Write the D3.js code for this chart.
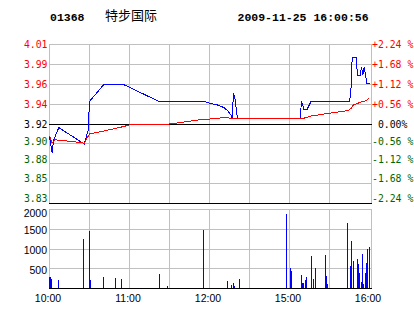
<!DOCTYPE html>
<html>
<head>
<meta charset="utf-8">
<script src="https://cdnjs.cloudflare.com/ajax/libs/d3/7.8.5/d3.min.js"></script>
<style>
body{margin:0;background:#fff}
svg{display:block}
.mono{font-family:"DejaVu Sans Mono",monospace;font-size:9.8px;white-space:pre}
.head{font-family:"Liberation Mono",monospace;font-size:11.5px;font-weight:bold}
.sans{font-family:"Liberation Sans",Arial,sans-serif;font-size:10.5px}
</style>
</head>
<body>
<div class="plot"></div>
<script>
var code = '01368', name = '特步国际', stamp = '2009-11-25 16:00:56';
var preClose = 3.92;

var pctTicks = [2.24, 1.68, 1.12, 0.56, 0, -0.56, -1.12, -1.68, -2.24];
var volTicks = [2000, 1500, 1000, 500];
var timeTicks = ['10:00', '11:00', '12:00', '15:00', '16:00'];

// last price (blue)
var priceTimes = ['10:00','10:02','10:03','10:07','10:26','10:29','10:30','10:41','10:55','11:22',
  '11:56','12:00','12:06','12:11','12:14','12:16','12:17','12:18','12:19','12:20','12:21',
  '15:08','15:09','15:11','15:13','15:16','15:44','15:45','15:46','15:47','15:50','15:51',
  '15:53','15:54','15:55','15:56','15:57','15:58','16:00'];
var priceValues = [3.906,3.888,3.902,3.916,3.898,3.913,3.945,3.964,3.964,3.945,
  3.945,3.943,3.941,3.938,3.934,3.930,3.9265,3.954,3.949,3.937,3.9265,
  3.9265,3.945,3.9355,3.9355,3.9445,3.9445,3.9445,3.955,3.993,3.993,3.974,
  3.974,3.983,3.974,3.983,3.974,3.965,3.965];

// average price (red)
var avgTimes = ['10:00','10:02','10:04','10:10','10:24','10:26','10:30','10:41','10:55','11:00',
  '11:15','11:30','11:53','12:00','12:11','12:20','15:10','15:16','15:29','15:44','15:46',
  '15:48','15:51','15:54','15:58','16:00'];
var avgValues = [3.907,3.899,3.9025,3.9017,3.8995,3.8986,3.909,3.9123,3.917,3.9189,
  3.9192,3.920,3.9247,3.9255,3.927,3.926,3.926,3.9288,3.9317,3.9348,3.937,
  3.941,3.9427,3.9445,3.946,3.949];

// volume
var volTimes = ['10:00','10:01','10:02','10:07','10:26','10:30','10:31','10:41','10:50','10:54',
  '11:23','11:29','11:56','12:14','12:17','12:18','12:19','12:23','14:58','15:01','15:02',
  '15:09','15:10','15:11','15:12','15:13','15:17','15:18','15:20','15:27','15:28','15:29',
  '15:44','15:46','15:47','15:48','15:51','15:52','15:53','15:54','15:55','15:56','15:57',
  '15:58','15:59','16:00'];
var volValues = [280,280,230,200,1250,1450,190,280,250,230,
  360,60,1470,185,84,134,58,235,1870,515,440,
  330,130,130,200,280,810,230,505,835,305,100,
  1645,555,1190,685,735,610,380,150,860,100,380,
  640,990,1040];

// trading minute index: 10:00-12:30 then 14:30-16:00
function idx(t){
  var p = t.split(':'), m = +p[0]*60 + +p[1];
  return m <= 750 ? m - 600 : m - 870 + 150;
}

var W = 414, H = 314,
    L = 49, R = 371,
    pTop = 44, pBot = 203,
    vTop = 209, vBot = 288;

var svg = d3.select('.plot').append('svg').attr('width', W).attr('height', H);

var x = d3.scaleLinear().domain([0, 241.5]).range([L, R]);
var yPct = d3.scaleLinear().domain([-2.24, 2.24]).range([pBot, pTop]);
var yPrice = function(v){ return yPct((v / preClose - 1) * 100); };
var yVol = d3.scaleLinear().domain([0, 2000]).range([vBot, vTop]);

var px = function(v){ return Math.round(v) + 0.5; };
var grid = svg.append('g').attr('shape-rendering', 'crispEdges').attr('fill', 'none');

// header
svg.append('text').attr('class', 'head').attr('x', 50).attr('y', 20.5).text(code);
svg.append('text').attr('x', 105).attr('y', 20)
  .style('font-family', '"Noto Sans CJK SC",sans-serif').style('font-size', '13px').text(name);
svg.append('text').attr('class', 'head').attr('x', 237.5).attr('y', 20.5).text(stamp);

// vertical grid every 30 minutes
var vLines = d3.range(30, 240, 30);
[[pTop, pBot], [vTop, vBot]].forEach(function(r){
  grid.selectAll(null).data(vLines).enter().append('line')
    .attr('x1', function(d){ return px(x(d)); }).attr('x2', function(d){ return px(x(d)); })
    .attr('y1', r[0]).attr('y2', r[1]).attr('stroke', '#c0c0c0');
  grid.append('rect').attr('x', L + 0.5).attr('y', r[0] + 0.5)
    .attr('width', R - L).attr('height', r[1] - r[0]).attr('stroke', '#c0c0c0');
});

// horizontal grid, price
grid.selectAll(null).data(pctTicks.filter(function(d){ return d !== 0 && Math.abs(d) < 2.24; }))
  .enter().append('line')
  .attr('x1', L).attr('x2', R)
  .attr('y1', function(d){ return px(yPct(d)); }).attr('y2', function(d){ return px(yPct(d)); })
  .attr('stroke', '#c0c0c0');
grid.append('line').attr('x1', L).attr('x2', R + 1)
  .attr('y1', px(yPct(0))).attr('y2', px(yPct(0))).attr('stroke', '#000');
grid.append('line').attr('x1', L).attr('x2', R + 1)
  .attr('y1', px(pBot)).attr('y2', px(pBot)).attr('stroke', '#000');

// horizontal grid, volume
grid.selectAll(null).data(volTicks.slice(1)).enter().append('line')
  .attr('x1', L).attr('x2', R)
  .attr('y1', function(d){ return px(yVol(d)); }).attr('y2', function(d){ return px(yVol(d)); })
  .attr('stroke', '#c0c0c0');
grid.append('line').attr('x1', L).attr('x2', R + 1)
  .attr('y1', px(vBot)).attr('y2', px(vBot)).attr('stroke', '#000');

// price axis labels
function col(d){ return d > 0 ? '#ff0000' : d < 0 ? '#006600' : '#000'; }
function labelY(d, i){
  var k = i - pctTicks.indexOf(0);
  return yPct(d) - (k > 0 ? Math.min(k * 1.7, 4.7) : -0.4) + 3.6;
}
svg.selectAll(null).data(pctTicks).enter().append('text')
  .attr('class', 'mono').attr('text-anchor', 'end')
  .attr('x', 47.5).attr('y', labelY).attr('fill', col)
  .text(function(d){ return (preClose * (1 + d / 100)).toFixed(2); });
svg.selectAll(null).data(pctTicks).enter().append('text')
  .attr('class', 'mono').attr('x', 372).attr('y', labelY).attr('fill', col)
  .text(function(d){
    if (d === 0) return ' 0.00%';
    return (d > 0 ? '+' : '-') + Math.abs(d).toFixed(2) + ' %';
  });

// volume labels
svg.selectAll(null).data(volTicks).enter().append('text')
  .attr('class', 'sans').attr('text-anchor', 'end').attr('x', 47)
  .attr('y', function(d){ return Math.max(yVol(d) + 1.5, vTop + 4) + 3.8; })
  .text(function(d){ return d; });

// time labels
svg.selectAll(null).data(timeTicks).enter().append('text')
  .attr('class', 'sans').attr('text-anchor', 'middle')
  .attr('x', function(d){ return x(idx(d)) - 1; }).attr('y', 302)
  .text(function(d){ return d; });

// volume bars
var vol = volTimes.map(function(t, i){ return {t: t, v: volValues[i]}; });
svg.append('g').attr('shape-rendering', 'crispEdges')
  .selectAll('rect').data(vol).enter().append('rect')
  .attr('x', function(d){ return Math.floor(x(idx(d.t))); })
  .attr('width', 1)
  .attr('y', function(d){ return Math.round(yVol(d.v)); })
  .attr('height', function(d){ return vBot - Math.round(yVol(d.v)); })
  .attr('fill', '#0000ff');

// lines
var line = d3.line()
  .x(function(d){ return x(idx(d.t)) + 0.5; })
  .y(function(d){ return yPrice(d.v) + 0.5; });
var price = priceTimes.map(function(t, i){ return {t: t, v: priceValues[i]}; });
var avg = avgTimes.map(function(t, i){ return {t: t, v: avgValues[i]}; });

svg.append('path').datum(price).attr('d', line)
  .attr('fill', 'none').attr('stroke', '#0000ff').attr('stroke-width', 1)
  .attr('shape-rendering', 'crispEdges');
svg.append('path').datum(avg).attr('d', line)
  .attr('fill', 'none').attr('stroke', '#ff0000').attr('stroke-width', 1)
  .attr('shape-rendering', 'crispEdges');
</script>
</body>
</html>
